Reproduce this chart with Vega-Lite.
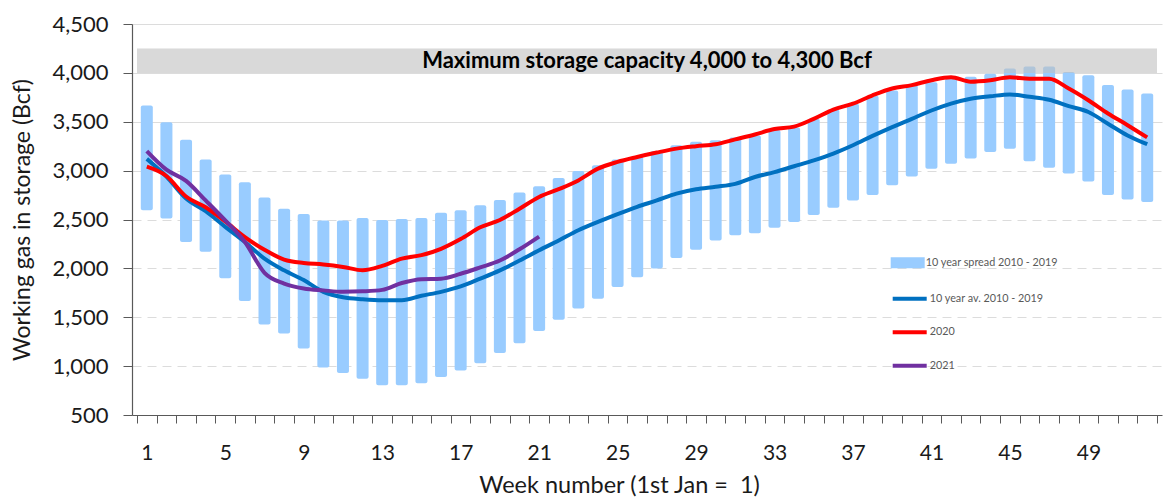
{
  "$schema": "https://vega.github.io/schema/vega-lite/v6.json",
  "width": 1030,
  "height": 391,
  "autosize": {"type": "none"},
  "padding": {"left": 132, "top": 24, "right": 1, "bottom": 82},
  "background": "white",
  "config": {"font": "Lato", "view": {"stroke": null}},
  "datasets": {
    "spread": [
      {"week":1,"value":2595,"value2":3665,"series":"10 year spread 2010 - 2019"},
      {"week":2,"value":2510,"value2":3495,"series":"10 year spread 2010 - 2019"},
      {"week":3,"value":2270,"value2":3315,"series":"10 year spread 2010 - 2019"},
      {"week":4,"value":2170,"value2":3115,"series":"10 year spread 2010 - 2019"},
      {"week":5,"value":1900,"value2":2960,"series":"10 year spread 2010 - 2019"},
      {"week":6,"value":1665,"value2":2880,"series":"10 year spread 2010 - 2019"},
      {"week":7,"value":1425,"value2":2725,"series":"10 year spread 2010 - 2019"},
      {"week":8,"value":1335,"value2":2610,"series":"10 year spread 2010 - 2019"},
      {"week":9,"value":1180,"value2":2555,"series":"10 year spread 2010 - 2019"},
      {"week":10,"value":985,"value2":2490,"series":"10 year spread 2010 - 2019"},
      {"week":11,"value":930,"value2":2490,"series":"10 year spread 2010 - 2019"},
      {"week":12,"value":870,"value2":2515,"series":"10 year spread 2010 - 2019"},
      {"week":13,"value":805,"value2":2495,"series":"10 year spread 2010 - 2019"},
      {"week":14,"value":805,"value2":2505,"series":"10 year spread 2010 - 2019"},
      {"week":15,"value":825,"value2":2515,"series":"10 year spread 2010 - 2019"},
      {"week":16,"value":890,"value2":2570,"series":"10 year spread 2010 - 2019"},
      {"week":17,"value":955,"value2":2595,"series":"10 year spread 2010 - 2019"},
      {"week":18,"value":1030,"value2":2645,"series":"10 year spread 2010 - 2019"},
      {"week":19,"value":1135,"value2":2700,"series":"10 year spread 2010 - 2019"},
      {"week":20,"value":1235,"value2":2775,"series":"10 year spread 2010 - 2019"},
      {"week":21,"value":1360,"value2":2840,"series":"10 year spread 2010 - 2019"},
      {"week":22,"value":1475,"value2":2925,"series":"10 year spread 2010 - 2019"},
      {"week":23,"value":1590,"value2":2995,"series":"10 year spread 2010 - 2019"},
      {"week":24,"value":1690,"value2":3055,"series":"10 year spread 2010 - 2019"},
      {"week":25,"value":1810,"value2":3115,"series":"10 year spread 2010 - 2019"},
      {"week":26,"value":1910,"value2":3145,"series":"10 year spread 2010 - 2019"},
      {"week":27,"value":2000,"value2":3200,"series":"10 year spread 2010 - 2019"},
      {"week":28,"value":2105,"value2":3260,"series":"10 year spread 2010 - 2019"},
      {"week":29,"value":2190,"value2":3295,"series":"10 year spread 2010 - 2019"},
      {"week":30,"value":2285,"value2":3310,"series":"10 year spread 2010 - 2019"},
      {"week":31,"value":2340,"value2":3340,"series":"10 year spread 2010 - 2019"},
      {"week":32,"value":2360,"value2":3360,"series":"10 year spread 2010 - 2019"},
      {"week":33,"value":2415,"value2":3415,"series":"10 year spread 2010 - 2019"},
      {"week":34,"value":2475,"value2":3440,"series":"10 year spread 2010 - 2019"},
      {"week":35,"value":2545,"value2":3530,"series":"10 year spread 2010 - 2019"},
      {"week":36,"value":2620,"value2":3625,"series":"10 year spread 2010 - 2019"},
      {"week":37,"value":2695,"value2":3685,"series":"10 year spread 2010 - 2019"},
      {"week":38,"value":2750,"value2":3765,"series":"10 year spread 2010 - 2019"},
      {"week":39,"value":2850,"value2":3820,"series":"10 year spread 2010 - 2019"},
      {"week":40,"value":2940,"value2":3875,"series":"10 year spread 2010 - 2019"},
      {"week":41,"value":3020,"value2":3905,"series":"10 year spread 2010 - 2019"},
      {"week":42,"value":3070,"value2":3940,"series":"10 year spread 2010 - 2019"},
      {"week":43,"value":3125,"value2":3960,"series":"10 year spread 2010 - 2019"},
      {"week":44,"value":3190,"value2":3990,"series":"10 year spread 2010 - 2019"},
      {"week":45,"value":3225,"value2":4045,"series":"10 year spread 2010 - 2019"},
      {"week":46,"value":3095,"value2":4065,"series":"10 year spread 2010 - 2019"},
      {"week":47,"value":3030,"value2":4065,"series":"10 year spread 2010 - 2019"},
      {"week":48,"value":2970,"value2":4010,"series":"10 year spread 2010 - 2019"},
      {"week":49,"value":2890,"value2":3975,"series":"10 year spread 2010 - 2019"},
      {"week":50,"value":2750,"value2":3875,"series":"10 year spread 2010 - 2019"},
      {"week":51,"value":2705,"value2":3830,"series":"10 year spread 2010 - 2019"},
      {"week":52,"value":2680,"value2":3790,"series":"10 year spread 2010 - 2019"}
    ],
    "band": [
      {"week":0.5,"week2":52.5,"value":4000,"value2":4250}
    ],
    "note": [
      {"week":26.5,"value":4125,"label":"Maximum storage capacity 4,000 to 4,300 Bcf"}
    ],
    "lines": [
      {"week":1,"series":"10 year av. 2010 - 2019","value":3120},
      {"week":2,"series":"10 year av. 2010 - 2019","value":2940},
      {"week":3,"series":"10 year av. 2010 - 2019","value":2715},
      {"week":4,"series":"10 year av. 2010 - 2019","value":2585},
      {"week":5,"series":"10 year av. 2010 - 2019","value":2425},
      {"week":6,"series":"10 year av. 2010 - 2019","value":2270},
      {"week":7,"series":"10 year av. 2010 - 2019","value":2100},
      {"week":8,"series":"10 year av. 2010 - 2019","value":1980},
      {"week":9,"series":"10 year av. 2010 - 2019","value":1880},
      {"week":10,"series":"10 year av. 2010 - 2019","value":1760},
      {"week":11,"series":"10 year av. 2010 - 2019","value":1705},
      {"week":12,"series":"10 year av. 2010 - 2019","value":1685},
      {"week":13,"series":"10 year av. 2010 - 2019","value":1675},
      {"week":14,"series":"10 year av. 2010 - 2019","value":1675},
      {"week":15,"series":"10 year av. 2010 - 2019","value":1720},
      {"week":16,"series":"10 year av. 2010 - 2019","value":1760},
      {"week":17,"series":"10 year av. 2010 - 2019","value":1815},
      {"week":18,"series":"10 year av. 2010 - 2019","value":1895},
      {"week":19,"series":"10 year av. 2010 - 2019","value":1980},
      {"week":20,"series":"10 year av. 2010 - 2019","value":2080},
      {"week":21,"series":"10 year av. 2010 - 2019","value":2185},
      {"week":22,"series":"10 year av. 2010 - 2019","value":2285},
      {"week":23,"series":"10 year av. 2010 - 2019","value":2390},
      {"week":24,"series":"10 year av. 2010 - 2019","value":2475},
      {"week":25,"series":"10 year av. 2010 - 2019","value":2555},
      {"week":26,"series":"10 year av. 2010 - 2019","value":2630},
      {"week":27,"series":"10 year av. 2010 - 2019","value":2695},
      {"week":28,"series":"10 year av. 2010 - 2019","value":2765},
      {"week":29,"series":"10 year av. 2010 - 2019","value":2810},
      {"week":30,"series":"10 year av. 2010 - 2019","value":2835},
      {"week":31,"series":"10 year av. 2010 - 2019","value":2865},
      {"week":32,"series":"10 year av. 2010 - 2019","value":2935},
      {"week":33,"series":"10 year av. 2010 - 2019","value":2985},
      {"week":34,"series":"10 year av. 2010 - 2019","value":3045},
      {"week":35,"series":"10 year av. 2010 - 2019","value":3105},
      {"week":36,"series":"10 year av. 2010 - 2019","value":3175},
      {"week":37,"series":"10 year av. 2010 - 2019","value":3260},
      {"week":38,"series":"10 year av. 2010 - 2019","value":3355},
      {"week":39,"series":"10 year av. 2010 - 2019","value":3445},
      {"week":40,"series":"10 year av. 2010 - 2019","value":3530},
      {"week":41,"series":"10 year av. 2010 - 2019","value":3615},
      {"week":42,"series":"10 year av. 2010 - 2019","value":3685},
      {"week":43,"series":"10 year av. 2010 - 2019","value":3735},
      {"week":44,"series":"10 year av. 2010 - 2019","value":3760},
      {"week":45,"series":"10 year av. 2010 - 2019","value":3780},
      {"week":46,"series":"10 year av. 2010 - 2019","value":3755},
      {"week":47,"series":"10 year av. 2010 - 2019","value":3725},
      {"week":48,"series":"10 year av. 2010 - 2019","value":3660},
      {"week":49,"series":"10 year av. 2010 - 2019","value":3600},
      {"week":50,"series":"10 year av. 2010 - 2019","value":3480},
      {"week":51,"series":"10 year av. 2010 - 2019","value":3360},
      {"week":52,"series":"10 year av. 2010 - 2019","value":3270},
      {"week":1,"series":"2020","value":3040},
      {"week":2,"series":"2020","value":2945},
      {"week":3,"series":"2020","value":2735},
      {"week":4,"series":"2020","value":2625},
      {"week":5,"series":"2020","value":2480},
      {"week":6,"series":"2020","value":2320},
      {"week":7,"series":"2020","value":2190},
      {"week":8,"series":"2020","value":2090},
      {"week":9,"series":"2020","value":2055},
      {"week":10,"series":"2020","value":2040},
      {"week":11,"series":"2020","value":2015},
      {"week":12,"series":"2020","value":1980},
      {"week":13,"series":"2020","value":2025},
      {"week":14,"series":"2020","value":2100},
      {"week":15,"series":"2020","value":2135},
      {"week":16,"series":"2020","value":2200},
      {"week":17,"series":"2020","value":2300},
      {"week":18,"series":"2020","value":2420},
      {"week":19,"series":"2020","value":2495},
      {"week":20,"series":"2020","value":2610},
      {"week":21,"series":"2020","value":2730},
      {"week":22,"series":"2020","value":2810},
      {"week":23,"series":"2020","value":2900},
      {"week":24,"series":"2020","value":3020},
      {"week":25,"series":"2020","value":3090},
      {"week":26,"series":"2020","value":3140},
      {"week":27,"series":"2020","value":3185},
      {"week":28,"series":"2020","value":3225},
      {"week":29,"series":"2020","value":3250},
      {"week":30,"series":"2020","value":3270},
      {"week":31,"series":"2020","value":3320},
      {"week":32,"series":"2020","value":3370},
      {"week":33,"series":"2020","value":3425},
      {"week":34,"series":"2020","value":3450},
      {"week":35,"series":"2020","value":3530},
      {"week":36,"series":"2020","value":3625},
      {"week":37,"series":"2020","value":3685},
      {"week":38,"series":"2020","value":3770},
      {"week":39,"series":"2020","value":3840},
      {"week":40,"series":"2020","value":3875},
      {"week":41,"series":"2020","value":3925},
      {"week":42,"series":"2020","value":3955},
      {"week":43,"series":"2020","value":3910},
      {"week":44,"series":"2020","value":3925},
      {"week":45,"series":"2020","value":3955},
      {"week":46,"series":"2020","value":3940},
      {"week":47,"series":"2020","value":3940},
      {"week":48,"series":"2020","value":3840},
      {"week":49,"series":"2020","value":3720},
      {"week":50,"series":"2020","value":3585},
      {"week":51,"series":"2020","value":3465},
      {"week":52,"series":"2020","value":3340},
      {"week":1,"series":"2021","value":3200},
      {"week":2,"series":"2021","value":3010},
      {"week":3,"series":"2021","value":2895},
      {"week":4,"series":"2021","value":2695},
      {"week":5,"series":"2021","value":2490},
      {"week":6,"series":"2021","value":2270},
      {"week":7,"series":"2021","value":1955},
      {"week":8,"series":"2021","value":1845},
      {"week":9,"series":"2021","value":1795},
      {"week":10,"series":"2021","value":1775},
      {"week":11,"series":"2021","value":1760},
      {"week":12,"series":"2021","value":1765},
      {"week":13,"series":"2021","value":1780},
      {"week":14,"series":"2021","value":1850},
      {"week":15,"series":"2021","value":1890},
      {"week":16,"series":"2021","value":1895},
      {"week":17,"series":"2021","value":1945},
      {"week":18,"series":"2021","value":2010},
      {"week":19,"series":"2021","value":2080},
      {"week":20,"series":"2021","value":2195},
      {"week":21,"series":"2021","value":2325}
    ]
  },
  "encoding": {
    "x": {
      "field": "week",
      "type": "quantitative",
      "scale": {"domain": [0.5, 52.5], "nice": false, "zero": false},
      "axis": {
        "title": "Week number (1st Jan = \u00a01)",
        "values": [0.5,1.5,2.5,3.5,4.5,5.5,6.5,7.5,8.5,9.5,10.5,11.5,12.5,13.5,14.5,15.5,16.5,17.5,18.5,19.5,20.5,21.5,22.5,23.5,24.5,25.5,26.5,27.5,28.5,29.5,30.5,31.5,32.5,33.5,34.5,35.5,36.5,37.5,38.5,39.5,40.5,41.5,42.5,43.5,44.5,45.5,46.5,47.5,48.5,49.5,50.5,51.5,52.5],
        "labelExpr": "(datum.value % 4 == 0.5 && datum.value < 50) ? ('' + (datum.value + 0.5)) : ''",
        "labelOffset": 9.9,
        "labelOverlap": false,
        "labelFlush": false,
        "labelBound": false,
        "labelFontSize": 21,
        "labelColor": "#1a1a1a",
        "labelPadding": 19,
        "tickSize": 8,
        "tickColor": "#595959",
        "domainColor": "#595959",
        "domainWidth": 1.2,
        "grid": false,
        "titleFontSize": 23.5,
        "titleFontWeight": "normal",
        "titleColor": "#1a1a1a",
        "titleX": 487,
        "titleY": 70,
        "titleBaseline": "middle",
        "titleAlign": "center"
      }
    },
    "y": {
      "field": "value",
      "type": "quantitative",
      "scale": {"domain": [500, 4500], "nice": false, "zero": false},
      "axis": {
        "title": "Working gas in storage (Bcf)",
        "values": [500,1000,1500,2000,2500,3000,3500,4000,4500],
        "format": ",d",
        "labelFontSize": 22,
        "labelColor": "#1a1a1a",
        "labelPadding": 15,
        "tickSize": 9,
        "tickColor": "#595959",
        "domainColor": "#595959",
        "domainWidth": 1.2,
        "grid": true,
        "gridColor": "#dcdcdc",
        "gridDash": {"condition": {"test": "datum.value >= 3500", "value": []}, "value": [9, 6]},
        "titleFontSize": 23,
        "titleFontWeight": "normal",
        "titleColor": "#1a1a1a",
        "titleX": -110,
        "titleY": 195.5,
        "titleAngle": -90,
        "titleBaseline": "middle",
        "titleAlign": "center"
      }
    }
  },
  "layer": [
    {
      "data": {"name": "spread"},
      "mark": {"type": "bar", "width": 12, "cornerRadius": 2},
      "encoding": {
        "y2": {"field": "value2"},
        "fill": {
          "field": "series",
          "type": "nominal",
          "scale": {"range": ["#99CCFF"]},
          "legend": {
            "title": null,
            "orient": "none",
            "direction": "vertical",
            "legendX": 758.7,
            "legendY": 221.8,
            "padding": 0,
            "rowPadding": 0,
            "symbolType": "M-1,-0.32H1V0.32H-1Z",
            "symbolSize": 1156,
            "symbolStrokeWidth": 0,
            "symbolOpacity": 1,
            "labelFontSize": 10.8,
            "labelColor": "#595959",
            "labelOffset": 1
          }
        }
      }
    },
    {
      "data": {"name": "band"},
      "mark": {"type": "rect", "fill": "#bfbfbf", "opacity": 0.6},
      "encoding": {
        "x2": {"field": "week2"},
        "y2": {"field": "value2"}
      }
    },
    {
      "data": {"name": "lines"},
      "mark": {"type": "line", "strokeWidth": 4, "interpolate": "monotone"},
      "encoding": {
        "stroke": {
          "field": "series",
          "type": "nominal",
          "scale": {
            "domain": ["10 year av. 2010 - 2019", "2020", "2021"],
            "range": ["#0070C0", "#FF0000", "#7030A0"]
          },
          "legend": {
            "title": null,
            "orient": "none",
            "direction": "vertical",
            "legendX": 758.7,
            "legendY": 255.7,
            "padding": 0,
            "rowPadding": 6.5,
            "symbolType": "stroke",
            "symbolSize": 1156,
            "symbolStrokeWidth": 4,
            "labelFontSize": 10.8,
            "labelColor": "#595959",
            "labelOffset": 1
          }
        }
      }
    },
    {
      "data": {"name": "note"},
      "mark": {"type": "text", "fontWeight": "bold", "fontSize": 22, "color": "#000000", "align": "center", "baseline": "middle"},
      "encoding": {
        "text": {"field": "label"}
      }
    }
  ]
}
